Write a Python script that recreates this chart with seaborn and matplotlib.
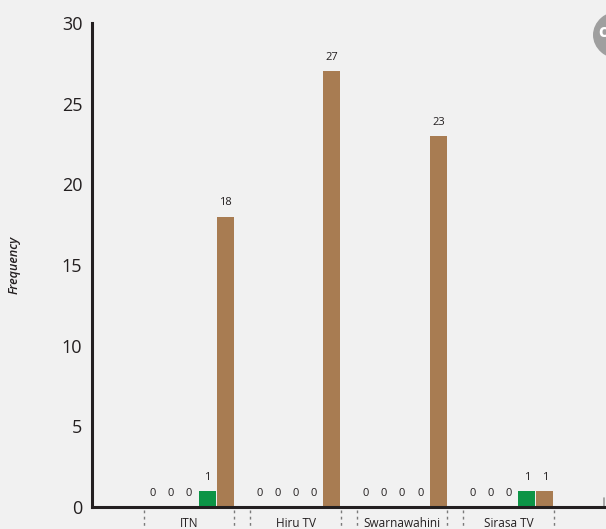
import matplotlib
matplotlib.use("Agg")
import matplotlib.pyplot as plt
import matplotlib.transforms as mtransforms
from matplotlib.patches import Circle
import seaborn as sns
import pandas as pd

# ---- data ----
channels = ["ITN", "Hiru TV", "Swarnawahini", "Sirasa TV"]
series = ["Series 1", "Series 2", "Series 3", "Series 4", "Series 5"]
itn = [0, 0, 0, 1, 18]
hiru = [0, 0, 0, 0, 27]
swarna = [0, 0, 0, 0, 23]
sirasa = [0, 0, 0, 1, 1]
colors = ["#5b7fb8", "#d9534f", "#f0ad4e", "#0c9446", "#a87c52"]
yticks = [0, 5, 10, 15, 20, 25, 30]

rows = []
for ch, vals in zip(channels, [itn, hiru, swarna, sirasa]):
    for s, v in zip(series, vals):
        rows.append({"channel": ch, "series": s, "freq": v})
df = pd.DataFrame(rows)

sns.set_style("white")
plt.rcParams["font.family"] = ["Open Sans", "DejaVu Sans"]

BG = "#f1f1f1"
INK = "#231f20"
fig = plt.figure(figsize=(6.06, 5.29), dpi=100, facecolor=BG)
ax = fig.add_axes([92 / 606, 1 - 507 / 529, (604 - 92) / 606, (507 - 23) / 529])
ax.set_facecolor(BG)

sns.barplot(data=df, x="channel", y="freq", hue="series", order=channels,
            hue_order=series, palette=colors, width=0.85, gap=0.06,
            saturation=1, legend=False, ax=ax, errorbar=None,
            linewidth=0, edgecolor="none")

for cont in ax.containers:
    ax.bar_label(cont, padding=6, fontsize=8, color=INK)

ax.set_ylim(0, 30)
ax.set_xlim(-0.912, 3.895)
ax.set_yticks(yticks)
ax.set_yticklabels([str(t) for t in yticks], fontsize=13, color=INK)
ax.tick_params(axis="y", direction="in", length=9, width=1.8, color=INK, pad=7)
ax.tick_params(axis="x", length=0, pad=7, labelsize=8.5, labelcolor=INK)
ax.set_xlabel("")
ax.set_ylabel("Frequency", fontsize=9, fontstyle="italic", fontweight="semibold", color=INK)
ax.yaxis.set_label_coords(-0.14, 0.5)

for side in ["top", "right"]:
    ax.spines[side].set_visible(False)
for side in ["left", "bottom"]:
    ax.spines[side].set_linewidth(2.2)
    ax.spines[side].set_color(INK)

# dotted group separators below axis
trans = mtransforms.blended_transform_factory(ax.transData, ax.transAxes)
for i in range(len(channels)):
    for edge in (i - 0.425, i + 0.425):
        ax.plot([edge, edge], [-0.007, -0.06], transform=trans, clip_on=False,
                color="#7a7a7a", lw=1.0, linestyle=(0, (2, 2.5)))
# small end tick on the x axis
ax.plot([1, 1], [0, 0.018], transform=ax.transAxes, clip_on=False, color="#9a9a9a", lw=1.2)

# grey round badge at top right corner (partially cut off)
fig.patches.append(Circle((621 / 606, 1 - 35 / 529), 28 / 606, transform=fig.transFigure,
                          facecolor="#9f9f9f", edgecolor="none"))
fig.text(598 / 606, 1 - 32 / 529, "c", color="white", fontsize=13, fontweight="bold",
         ha="left", va="center")

fig.savefig("out.png", dpi=100, facecolor=BG)
